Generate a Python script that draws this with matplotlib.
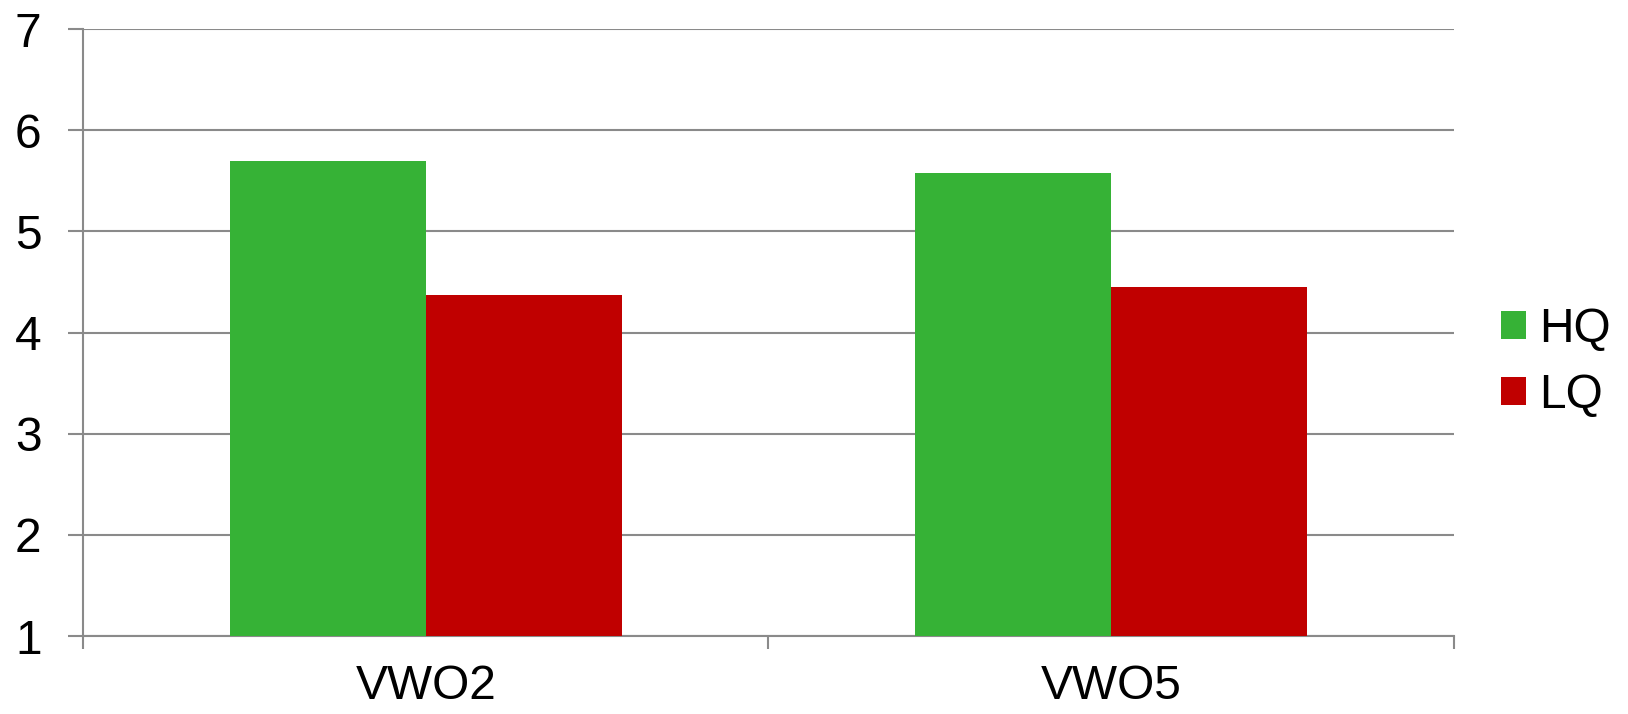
import matplotlib
matplotlib.use("Agg")
import matplotlib.pyplot as plt
import numpy as np

categories = ["VWO2", "VWO5"]
series_names = ["HQ", "LQ"]
hq_values = [5.70, 5.58]
lq_values = [4.37, 4.45]
y_ticks = [1, 2, 3, 4, 5, 6, 7]

plt.rcParams['font.family'] = ['Liberation Sans', 'DejaVu Sans']

fig = plt.figure(figsize=(16.28, 7.14), dpi=100)
ax = fig.add_axes([83/1628, 1-636/714, (1454-83)/1628, (636-29)/714])

x = np.arange(len(categories))
w = 0.286
grid_c = '#8a8a8a'
FS = 34.5
ax.bar(x - w/2, np.array(hq_values) - 1, w, bottom=1, color='#36b236', label=series_names[0], zorder=3)
ax.bar(x + w/2, np.array(lq_values) - 1, w, bottom=1, color='#c00000', label=series_names[1], zorder=3)

ax.set_xlim(-0.5, len(categories) - 0.5)
ax.set_ylim(1, 7)
ax.set_yticks(y_ticks)
ax.set_yticklabels([str(t) for t in y_ticks])
ax.yaxis.grid(True, color=grid_c, linewidth=1.5, zorder=0)
ax.set_axisbelow(True)

ax.set_xticks(x)
ax.set_xticklabels(categories)
ax.set_xticks(np.arange(-0.5, len(categories), 1.0), minor=True)
ax.tick_params(axis='x', which='major', length=0, pad=20.5, labelsize=FS)
ax.tick_params(axis='x', which='minor', length=9.5, width=1.5, color=grid_c, direction='out')
ax.tick_params(axis='y', length=10.8, width=1.5, color=grid_c, pad=19, labelsize=FS)

for s in ['top', 'right']:
    ax.spines[s].set_visible(False)
ax.spines['left'].set_color(grid_c)
ax.spines['left'].set_linewidth(1.5)
ax.spines['bottom'].set_color(grid_c)
ax.spines['bottom'].set_linewidth(1.5)

fig.legend(loc='center left', bbox_to_anchor=(1501/1628, 1-362.5/714), frameon=False,
           fontsize=FS, handlelength=0.53, handleheight=0.53, handletextpad=0.27,
           labelspacing=0.45, borderpad=0, borderaxespad=0)

fig.savefig("out.png", dpi=100, facecolor='white')
